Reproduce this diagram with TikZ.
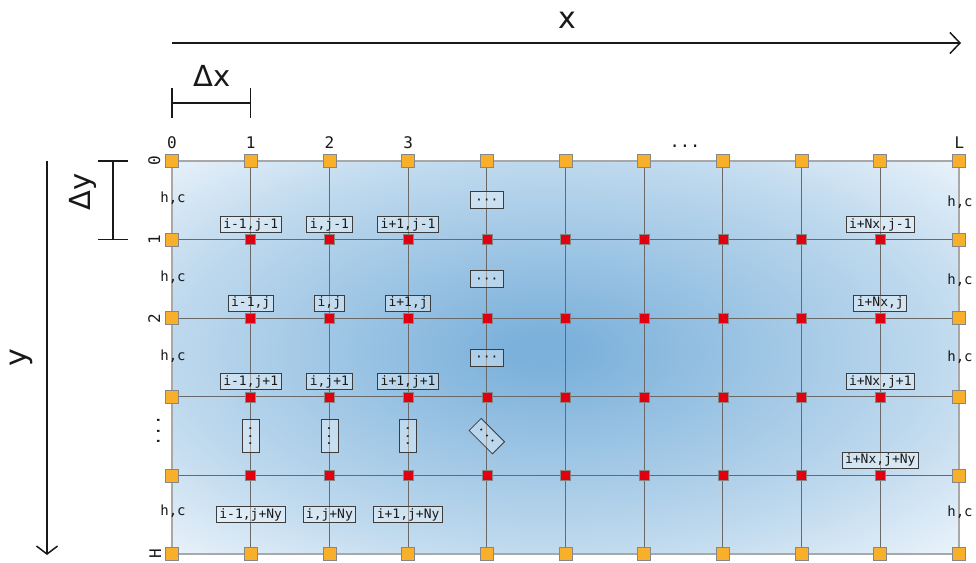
\documentclass[tikz,border=0pt]{standalone}
\usepackage{fontspec}
\setmainfont{DejaVu Sans}
\newfontfamily\monof{DejaVu Sans Mono}
\usetikzlibrary{arrows.meta,calc}
\definecolor{bgA}{RGB}{124,177,219}
\definecolor{bgB}{RGB}{192,218,238}
\definecolor{bgC}{RGB}{233,242,250}
\definecolor{gridc}{RGB}{105,105,105}
\definecolor{borderc}{RGB}{168,168,168}
\definecolor{orangec}{RGB}{248,176,42}
\definecolor{redc}{RGB}{225,0,16}
\definecolor{sqedge}{RGB}{135,135,135}
\definecolor{boxedge}{RGB}{60,60,60}
\definecolor{inkc}{RGB}{25,25,25}
\pgfdeclareradialshading{bgshade}{\pgfpoint{-1.5bp}{1bp}}{color(0bp)=(bgA); color(2bp)=(bgA); color(25bp)=(bgB); color(35.5bp)=(bgC); color(50bp)=(bgC)}
\newcommand{\mydots}{\smash{\raisebox{-0.33em}{···}}}
\begin{document}
\begin{tikzpicture}[x=1pt,y=-1pt,
  gridline/.style={draw=gridc, line width=1.1pt},
  bsq/.style={draw=sqedge, fill=orangec, line width=0.8pt, minimum size=13pt, inner sep=0pt},
  rsq/.style={draw=sqedge, fill=redc, line width=0.6pt, minimum size=10pt, inner sep=0pt},
  idx/.style={draw=boxedge, line width=0.8pt, fill=white, fill opacity=0.35, text opacity=1, text=inkc,
    font=\monof\fontsize{13}{13}\selectfont, inner xsep=3pt, inner ysep=1.5pt, text height=10pt, text depth=3pt},
  dotbox/.style={draw=boxedge, line width=0.8pt, fill=white, fill opacity=0.35, text opacity=1, text=inkc,
    font=\monof\fontsize{13}{13}\selectfont, minimum width=33pt, minimum height=17pt, inner sep=0pt},
  collab/.style={font=\monof\fontsize{16}{16}\selectfont, anchor=base, inner sep=0pt, text=inkc},
  rowlab/.style={font=\monof\fontsize{16}{16}\selectfont, anchor=base, rotate=90, inner sep=0pt, text=inkc},
  hclab/.style={font=\monof\fontsize{14}{14}\selectfont, anchor=base, inner sep=0pt, text=inkc},
  biglab/.style={font=\fontsize{30}{30}\selectfont, anchor=base, inner sep=0pt, text=inkc},
  dlab/.style={font=\fontsize{29}{29}\selectfont, anchor=base, inner sep=0pt, text=inkc},
  axisline/.style={draw=inkc, line width=1.5pt},
  dimline/.style={draw=inkc, line width=1.3pt}
]
\useasboundingbox (0,0) rectangle (976,562);
% grid points
\foreach \i in {0,...,10}{
  \foreach \j in {0,...,5}{
    \coordinate (g-\i-\j) at ({172+78.7*\i},{161+78.6*\j});
  }
}
% background
\shade[shading=bgshade] (g-0-0) rectangle (g-10-5);
% grid lines
\foreach \i in {1,...,9} \draw[gridline] (g-\i-0) -- (g-\i-5);
\foreach \j in {1,...,4} \draw[gridline] (g-0-\j) -- (g-10-\j);
% border
\draw[draw=borderc, line width=2.5pt] (g-0-0) rectangle (g-10-5);
% boundary squares
\foreach \i in {0,...,10}{
  \node[bsq] (b-\i-0) at (g-\i-0) {};
  \node[bsq] (b-\i-5) at (g-\i-5) {};
}
\foreach \j in {1,...,4}{
  \node[bsq] (b-0-\j) at (g-0-\j) {};
  \node[bsq] (b-10-\j) at (g-10-\j) {};
}
% interior squares
\foreach \i in {1,...,9}{
  \foreach \j in {1,...,4}{
    \node[rsq] (r-\i-\j) at (g-\i-\j) {};
  }
}
% index labels
\node[idx, yshift=15pt] (l-1-1) at (g-1-1) {i-1,j-1};
\node[idx, yshift=15pt] (l-2-1) at (g-2-1) {i,j-1};
\node[idx, yshift=15pt] (l-3-1) at (g-3-1) {i+1,j-1};
\node[idx, yshift=15pt] (l-1-2) at (g-1-2) {i-1,j};
\node[idx, yshift=15pt] (l-2-2) at (g-2-2) {i,j};
\node[idx, yshift=15pt] (l-3-2) at (g-3-2) {i+1,j};
\node[idx, yshift=15pt] (l-1-3) at (g-1-3) {i-1,j+1};
\node[idx, yshift=15pt] (l-2-3) at (g-2-3) {i,j+1};
\node[idx, yshift=15pt] (l-3-3) at (g-3-3) {i+1,j+1};
\node[idx] (l-1-5) at ($(g-1-4)!0.5!(g-1-5)$) {i-1,j+Ny};
\node[idx] (l-2-5) at ($(g-2-4)!0.5!(g-2-5)$) {i,j+Ny};
\node[idx] (l-3-5) at ($(g-3-4)!0.5!(g-3-5)$) {i+1,j+Ny};
\node[idx, yshift=15pt] (l-9-1) at (g-9-1) {i+Nx,j-1};
\node[idx, yshift=15pt] (l-9-2) at (g-9-2) {i+Nx,j};
\node[idx, yshift=15pt] (l-9-3) at (g-9-3) {i+Nx,j+1};
\node[idx, yshift=15pt] (l-9-4) at (g-9-4) {i+Nx,j+Ny};
% ellipsis boxes
\node[dotbox] (e-4-1) at ($(g-4-0)!0.5!(g-4-1)$) {\mydots};
\node[dotbox] (e-4-2) at ($(g-4-1)!0.5!(g-4-2)$) {\mydots};
\node[dotbox] (e-4-3) at ($(g-4-2)!0.5!(g-4-3)$) {\mydots};
\node[dotbox, rotate=90] (e-1-4) at ($(g-1-3)!0.5!(g-1-4)$) {\mydots};
\node[dotbox, rotate=90] (e-2-4) at ($(g-2-3)!0.5!(g-2-4)$) {\mydots};
\node[dotbox, rotate=90] (e-3-4) at ($(g-3-3)!0.5!(g-3-4)$) {\mydots};
\node[dotbox, rotate=-45] (e-4-4) at ($(g-4-3)!0.5!(g-4-4)$) {\mydots};
% column labels
\node[collab] (c0) at ($(g-0-0)+(0,-13)$) {0};
\node[collab] (c1) at ($(g-1-0)+(0,-13)$) {1};
\node[collab] (c2) at ($(g-2-0)+(0,-13)$) {2};
\node[collab] (c3) at ($(g-3-0)+(0,-13)$) {3};
\node[font=\monof\fontsize{17}{17}\selectfont, anchor=base, inner sep=0pt, text=inkc] (cdots) at (685,147) {...};
\node[font=\fontsize{16}{16}\selectfont, anchor=base, inner sep=0pt, text=inkc] (cL) at ($(g-10-0)+(0,-13)$) {L};
% row labels
\node[rowlab] (w0) at ($(g-0-0)+(-12,0)$) {0};
\node[rowlab] (w1) at ($(g-0-1)+(-12,0)$) {1};
\node[rowlab] (w2) at ($(g-0-2)+(-12,0)$) {2};
\node[rowlab] (wH) at ($(g-0-5)+(-11,0)$) {H};
\node[font=\monof\fontsize{17}{17}\selectfont, anchor=base, rotate=90, inner sep=0pt, text=inkc] (wdots) at (159.5,431) {...};
% h,c labels
\node[hclab] (hl1) at (173,202) {h,c};
\node[hclab] (hl2) at (173,281) {h,c};
\node[hclab] (hl3) at (173,360) {h,c};
\node[hclab] (hl5) at (173,515) {h,c};
\node[hclab] (hr1) at (960,206) {h,c};
\node[hclab] (hr2) at (960,284) {h,c};
\node[hclab] (hr3) at (960,361) {h,c};
\node[hclab] (hr5) at (960,516) {h,c};
% axes
\coordinate (xa0) at (172,43);
\coordinate (xa1) at (961,43);
\draw[axisline, -{Straight Barb[length=10pt,width=21pt]}] (xa0) -- (xa1);
\node[biglab] (xlab) at (567,28) {x};
\coordinate (ya0) at (47,161);
\coordinate (ya1) at (47,555);
\draw[axisline, -{Straight Barb[length=8pt,width=21pt]}] (ya0) -- (ya1);
\node[biglab, rotate=90] (ylab) at (27,358) {y};
% dimension dx
\coordinate (dx0) at (172,103);
\coordinate (dx1) at (250.7,103);
\coordinate (dx0t) at (172,88);
\coordinate (dx0b) at (172,118);
\coordinate (dx1t) at (250.7,88);
\coordinate (dx1b) at (250.7,118);
\draw[dimline] (dx0) -- (dx1);
\draw[dimline] (dx0t) -- (dx0b);
\draw[dimline] (dx1t) -- (dx1b);
\node[dlab] (dxlab) at (212,86) {Δx};
% dimension dy
\coordinate (dy0) at (113,161);
\coordinate (dy1) at (113,239.6);
\coordinate (dy0l) at (98,161);
\coordinate (dy0r) at (128,161);
\coordinate (dy1l) at (98,239.6);
\coordinate (dy1r) at (128,239.6);
\draw[dimline] (dy0) -- (dy1);
\draw[dimline] (dy0l) -- (dy0r);
\draw[dimline] (dy1l) -- (dy1r);
\node[dlab, rotate=90] (dylab) at (90,192) {Δy};
\end{tikzpicture}
\end{document}
